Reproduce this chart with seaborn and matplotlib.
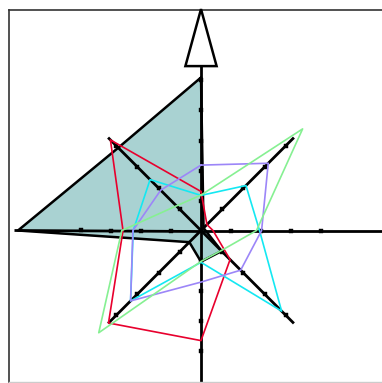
import numpy as np
import pandas as pd
import matplotlib
matplotlib.use("Agg")
import matplotlib.pyplot as plt
import seaborn as sns
from matplotlib.patches import Polygon

# spokes, counter-clockwise starting at the top
directions = ["N", "NE", "E", "SE", "S", "SW", "W", "NW"]
angles_deg = [90, 45, 0, -45, -90, -135, 180, 135]
axis_length = [5.48, 4.38, 6.6, 4.38, 5.3, 4.38, 6.23, 4.38]
tick_count = [5, 4, 4, 4, 4, 4, 4, 4]

# series values along each spoke (same order as directions)
filled_values = [5.1, 0.12, 0.15, 0.97, 1.04, 0.55, 6.1, 3.9]
series_names = ["red", "cyan", "purple", "green"]
red_values = [1.3, 0.28, 0.4, 1.37, 3.67, 4.36, 2.6, 4.27]
cyan_values = [1.17, 2.12, 1.95, 3.8, 1.06, 3.32, 2.26, 2.4]
purple_values = [2.18, 3.17, 2.02, 1.87, 1.72, 3.32, 2.27, 1.9]
green_values = [1.18, 4.79, 1.85, 0.95, 1.03, 4.82, 2.64, 1.16]

colors = {"red": "#e8002d", "cyan": "#14e8f2", "purple": "#9c86f8", "green": "#86f092"}
fill_color = "#a9d2d2"

ang = np.deg2rad(angles_deg)


def to_xy(values):
    v = np.asarray(values, dtype=float)
    x = v * np.cos(ang)
    y = v * np.sin(ang)
    return np.append(x, x[0]), np.append(y, y[0])


sns.set_theme(style="white")
fig = plt.figure(figsize=(3.82, 3.83), dpi=100)
W, H = 382, 383
left_px, top_px, right_px, bottom_px = 8.5, 9.5, 392, 381.5
ax = fig.add_axes([left_px / W, 1 - bottom_px / H, (right_px - left_px) / W, (bottom_px - top_px) / H])
cx, cy, unit = 201, 230.5, 30.0
ax.set_xlim((left_px - cx) / unit, (right_px - cx) / unit)
ax.set_ylim((cy - bottom_px) / unit, (cy - top_px) / unit)
ax.set_xticks([])
ax.set_yticks([])
for side in ["left", "top"]:
    ax.spines[side].set_color("#333333")
    ax.spines[side].set_linewidth(1.2)
ax.spines["right"].set_visible(False)
ax.spines["bottom"].set_color("#cccccc")
ax.spines["bottom"].set_linewidth(1.0)

# filled series
fx, fy = to_xy(filled_values)
ax.fill(fx, fy, color=fill_color, zorder=1)
ax.plot(fx, fy, color="black", lw=1.8, zorder=3)

# spokes and ticks
tick_rows = []
for a, L, n in zip(ang, axis_length, tick_count):
    ax.plot([0, L * np.cos(a)], [0, L * np.sin(a)], color="black", lw=2.0,
            solid_capstyle="butt", zorder=2, clip_on=False)
    for k in range(1, n + 1):
        tick_rows.append({"x": k * np.cos(a), "y": k * np.sin(a)})
ticks = pd.DataFrame(tick_rows)
sns.scatterplot(data=ticks, x="x", y="y", marker="s", s=7, color="black",
                edgecolor="black", linewidth=0.3, ax=ax, zorder=2, legend=False)

# arrow head on top of the N spoke
head_len, head_half = 1.9, 0.52
base = axis_length[0]
ax.add_patch(Polygon([[-head_half, base], [head_half, base], [0, base + head_len]],
                     closed=True, facecolor="white", edgecolor="black", lw=1.8,
                     zorder=4, clip_on=False))

# outline series
rows = []
for name, vals in zip(series_names, [red_values, cyan_values, purple_values, green_values]):
    x, y = to_xy(vals)
    for i, (xx, yy) in enumerate(zip(x, y)):
        rows.append({"series": name, "order": i, "x": xx, "y": yy})
df = pd.DataFrame(rows)
for name in series_names:
    sub = df[df["series"] == name]
    sns.lineplot(data=sub, x="x", y="y", sort=False, estimator=None,
                 color=colors[name], lw=1.2, ax=ax, zorder=3)

ax.set_xlabel("")
ax.set_ylabel("")
fig.savefig("out.png", dpi=100)
